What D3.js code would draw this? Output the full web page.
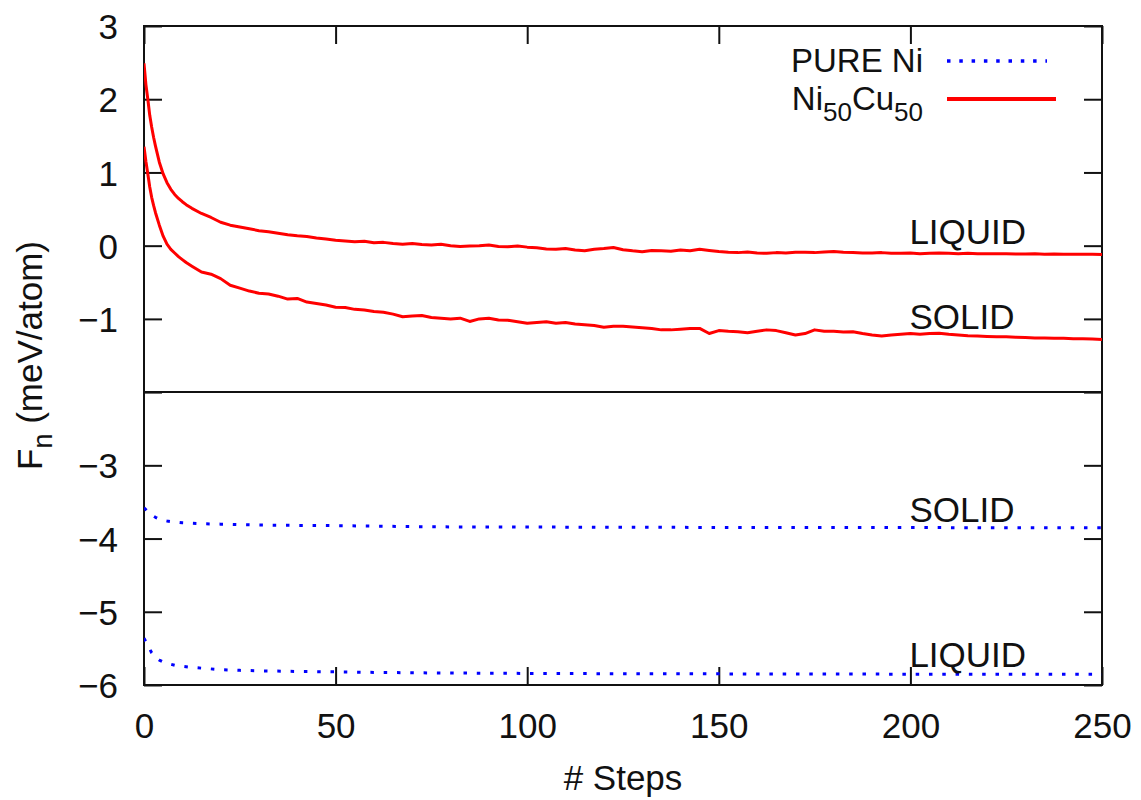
<!DOCTYPE html>
<html>
<head>
<meta charset="utf-8">
<script src="https://cdn.jsdelivr.net/npm/d3@7"></script>
<style>
  html, body { margin: 0; padding: 0; background: #fff; }
  svg { display: block; }
  text { font-family: "Liberation Sans", Arial, Helvetica, sans-serif; fill: #111; }
</style>
</head>
<body>
<svg id="chart" width="1141" height="800"></svg>
<script>
// ---------- DATA ----------
const xTicks = [0, 50, 100, 150, 200, 250];
const xTickLabels = ["0", "50", "100", "150", "200", "250"];
const yTicks = [3, 2, 1, 0, -1, -2, -3, -4, -5, -6];
const yTickLabels = ["3", "2", "1", "0", "\u22121", "", "\u22123", "\u22124", "\u22125", "\u22126"];

const seriesNames = ["PURE Ni", "Ni50Cu50"];

// Ni50Cu50 (red, solid)
const redSteps = [0, 0.5, 1, 1.5, 2, 2.5, 3, 4, 5, 6, 7, 8, 9, 10, 11,
  12.5, 15, 17.5, 20, 22.5, 25, 27.5, 30, 32.5, 35, 37.5, 40, 42.5, 45, 47.5, 50,
  52.5, 55, 57.5, 60, 62.5, 65, 67.5, 70, 72.5, 75, 77.5, 80, 82.5, 85, 87.5, 90,
  92.5, 95, 97.5, 100, 102.5, 105, 107.5, 110, 112.5, 115, 117.5, 120, 122.5, 125,
  127.5, 130, 132.5, 135, 137.5, 140, 142.5, 145, 147.5, 150, 152.5, 155, 157.5, 160,
  162.5, 165, 167.5, 170, 172.5, 175, 177.5, 180, 182.5, 185, 187.5, 190, 192.5, 195,
  197.5, 200, 202.5, 205, 207.5, 210, 212.5, 215, 217.5, 220, 222.5, 225, 227.5, 230,
  232.5, 235, 237.5, 240, 242.5, 245, 247.5, 250];

const niCuLiquid = [2.49, 2.2, 2.0, 1.78, 1.62, 1.48, 1.36, 1.14, 0.98, 0.86, 0.77, 0.70, 0.645, 0.60, 0.56,
  0.51, 0.44, 0.385, 0.32, 0.28, 0.255, 0.23, 0.205, 0.19, 0.17, 0.15, 0.135, 0.125, 0.105, 0.09, 0.075,
  0.065, 0.055, 0.06, 0.04, 0.045, 0.03, 0.02, 0.03, 0.015, 0.01, 0.02, 0.0, -0.01, -0.005, 0.0, 0.01,
  -0.01, -0.015, -0.005, -0.02, -0.03, -0.045, -0.05, -0.04, -0.06, -0.068, -0.05, -0.04, -0.025, -0.055,
  -0.07, -0.082, -0.065, -0.07, -0.075, -0.06, -0.07, -0.05, -0.065, -0.08, -0.09, -0.095, -0.085, -0.1,
  -0.105, -0.095, -0.1, -0.09, -0.09, -0.095, -0.085, -0.08, -0.09, -0.095, -0.1, -0.1, -0.095, -0.105,
  -0.105, -0.1, -0.11, -0.105, -0.1, -0.105, -0.11, -0.105, -0.11, -0.11, -0.112, -0.11, -0.115, -0.114,
  -0.112, -0.116, -0.115, -0.117, -0.118, -0.117, -0.118, -0.12];

const niCuSolid = [1.35, 1.15, 0.98, 0.8, 0.66, 0.55, 0.45, 0.28, 0.13, 0.02, -0.05, -0.1, -0.15, -0.19, -0.23,
  -0.28, -0.36, -0.39, -0.45, -0.54, -0.58, -0.62, -0.65, -0.66, -0.69, -0.73, -0.72, -0.77, -0.79, -0.81, -0.84,
  -0.845, -0.87, -0.88, -0.9, -0.91, -0.935, -0.97, -0.96, -0.955, -0.98, -0.99, -1.0, -0.99, -1.035, -1.0, -0.99,
  -1.015, -1.02, -1.04, -1.06, -1.05, -1.04, -1.06, -1.05, -1.07, -1.08, -1.09, -1.115, -1.1, -1.1,
  -1.11, -1.12, -1.13, -1.15, -1.15, -1.14, -1.13, -1.13, -1.2, -1.16, -1.17, -1.175, -1.19, -1.17,
  -1.15, -1.16, -1.19, -1.22, -1.2, -1.15, -1.17, -1.17, -1.18, -1.175, -1.2, -1.22, -1.234, -1.22,
  -1.21, -1.2, -1.21, -1.2, -1.195, -1.21, -1.22, -1.23, -1.235, -1.24, -1.243, -1.245, -1.25, -1.255,
  -1.26, -1.26, -1.265, -1.265, -1.27, -1.27, -1.275, -1.28];

// PURE Ni (blue, dotted)
const blueSteps = [0, 1, 2, 3, 4, 5, 6, 8, 10, 12, 15, 20, 25, 30, 40, 50, 60, 75, 100, 125, 150, 175, 200, 225, 250];
const niSolid = [-3.58, -3.63, -3.68, -3.71, -3.735, -3.75, -3.76, -3.775, -3.785, -3.79, -3.797, -3.803, -3.81,
  -3.815, -3.82, -3.824, -3.83, -3.84, -3.843, -3.846, -3.848, -3.85, -3.85, -3.852, -3.853];
const niLiquid = [-5.36, -5.46, -5.56, -5.62, -5.66, -5.685, -5.705, -5.73, -5.745, -5.757, -5.77, -5.79, -5.8,
  -5.806, -5.815, -5.82, -5.828, -5.835, -5.842, -5.846, -5.848, -5.85, -5.852, -5.853, -5.855];

const phaseLabels = ["LIQUID", "SOLID", "SOLID", "LIQUID"];

// ---------- LAYOUT ----------
(function () {
const svg = d3.select("#chart");
const mLeft = 144, mRight = 1102, mTop = 26, mBottom = 685;
const FS = 35, LFS = 33;
const RED = "#ff0000", BLUE = "#0000ff", INK = "#111";

const x = d3.scaleLinear().domain([0, 250]).range([mLeft, mRight]);
const y = d3.scaleLinear().domain([-6, 3]).range([mBottom, mTop]);

const tickLen = 18;

const yAxisL = d3.axisLeft(y).tickValues(yTicks).tickSize(-tickLen).tickPadding(26)
  .tickFormat((d, i) => yTickLabels[i]);
const gL = svg.append("g").attr("transform", `translate(${mLeft},0)`).call(yAxisL);

const yAxisR = d3.axisRight(y).tickValues(yTicks).tickSize(-tickLen).tickFormat("");
const gR = svg.append("g").attr("transform", `translate(${mRight},0)`).call(yAxisR);

const xAxisB = d3.axisBottom(x).tickValues(xTicks).tickSize(-tickLen).tickPadding(28)
  .tickFormat((d, i) => xTickLabels[i]);
const gB = svg.append("g").attr("transform", `translate(0,${mBottom})`).call(xAxisB);

const xAxisT = d3.axisTop(x).tickValues(xTicks).tickSize(-tickLen).tickFormat("");
const gT = svg.append("g").attr("transform", `translate(0,${mTop})`).call(xAxisT);

[gL, gR, gB, gT].forEach(g => {
  g.select(".domain").remove();
  g.selectAll(".tick line").attr("stroke", INK).attr("stroke-width", 2);
  g.selectAll(".tick text").attr("font-size", FS).attr("fill", INK)
    .style("font-family", '"Liberation Sans", Arial, sans-serif');
});
gL.selectAll(".tick text").attr("x", -26).attr("dy", "0.36em");
gB.selectAll(".tick text").attr("dy", "0.72em");

svg.append("rect").attr("x", mLeft).attr("y", mTop)
  .attr("width", mRight - mLeft).attr("height", mBottom - mTop)
  .attr("fill", "none").attr("stroke", INK).attr("stroke-width", 2);
svg.append("line").attr("x1", mLeft).attr("x2", mRight)
  .attr("y1", y(-2)).attr("y2", y(-2))
  .attr("stroke", INK).attr("stroke-width", 2);

const line = d3.line().x(d => x(d[0])).y(d => y(d[1]));
svg.append("clipPath").attr("id", "plotclip")
  .append("rect").attr("x", mLeft).attr("y", mTop).attr("width", mRight - mLeft).attr("height", mBottom - mTop);
const plot = svg.append("g").attr("clip-path", "url(#plotclip)");

function addSeries(steps, vals, color, dotted) {
  const p = plot.append("path")
    .datum(steps.map((s, i) => [s, vals[i]]))
    .attr("d", line)
    .attr("fill", "none")
    .attr("stroke", color)
    .attr("stroke-width", 3)
    .attr("stroke-linejoin", "round");
  if (dotted) p.attr("stroke-dasharray", "3.5,9.8");
}
addSeries(redSteps, niCuLiquid, RED, false);
addSeries(redSteps, niCuSolid, RED, false);
addSeries(blueSteps, niSolid, BLUE, true);
addSeries(blueSteps, niLiquid, BLUE, true);

const annX = x(200) - 1;
const annY = [y(0) - 2, y(-1) + 10, y(-4) - 17, y(-6) - 18];
phaseLabels.forEach((t, i) => {
  svg.append("text").attr("x", annX).attr("y", annY[i])
    .attr("font-size", FS).text(t);
});

const legX = 923, legSx1 = 947;
svg.append("text").attr("x", legX).attr("y", 72).attr("text-anchor", "end")
  .attr("font-size", LFS).text(seriesNames[0]);
svg.append("line").attr("x1", legSx1).attr("x2", 1047).attr("y1", 61).attr("y2", 61)
  .attr("stroke", BLUE).attr("stroke-width", 3.5).attr("stroke-dasharray", "3.5,8.8");

const leg2 = svg.append("text").attr("x", legX).attr("y", 110).attr("text-anchor", "end")
  .attr("font-size", LFS);
leg2.append("tspan").text("Ni");
leg2.append("tspan").attr("font-size", 26).attr("dy", 11).text("50");
leg2.append("tspan").attr("dy", -11).text("Cu");
leg2.append("tspan").attr("font-size", 26).attr("dy", 11).text("50");
svg.append("line").attr("x1", legSx1).attr("x2", 1056).attr("y1", 99).attr("y2", 99)
  .attr("stroke", RED).attr("stroke-width", 4);

svg.append("text").attr("x", (mLeft + mRight) / 2).attr("y", 790).attr("text-anchor", "middle")
  .attr("font-size", FS).text("# Steps");

const yl = svg.append("text")
  .attr("transform", `translate(42,${(mTop + mBottom) / 2}) rotate(-90)`)
  .attr("text-anchor", "middle").attr("font-size", FS);
yl.append("tspan").text("F");
yl.append("tspan").attr("font-size", 27).attr("dy", 10).text("n");
yl.append("tspan").attr("dy", -10).text(" (meV/atom)");
})();
</script>
</body>
</html>
